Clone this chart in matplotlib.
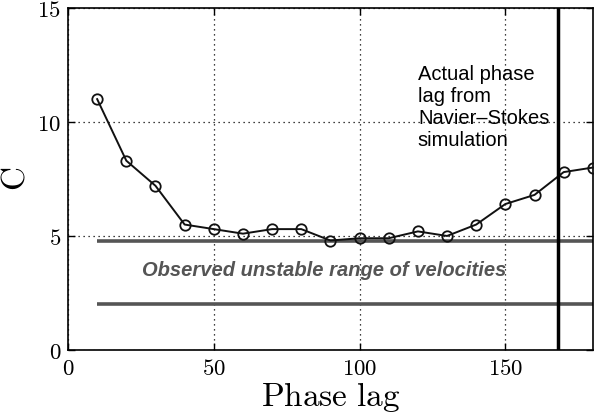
import matplotlib
matplotlib.use("Agg")
import matplotlib.pyplot as plt
from matplotlib.ticker import FuncFormatter

plt.rcParams['mathtext.fontset'] = 'cm'

phase_lag = [10, 20, 30, 40, 50, 60, 70, 80, 90, 100, 110, 120, 130, 140, 150, 160, 170, 180]
C_values = [11.0, 8.3, 7.2, 5.5, 5.3, 5.1, 5.3, 5.3, 4.8, 4.9, 4.9, 5.2, 5.0, 5.5, 6.4, 6.8, 7.8, 8.0]
range_low = 2.0
range_high = 4.8
range_x = [10, 180]
actual_lag = 168
xticks = [0, 50, 100, 150]
yticks = [0, 5, 10, 15]

fig = plt.figure(figsize=(5.94, 4.16), dpi=100)
ax = fig.add_axes([0.1145, 0.1587, 0.8835, 0.8223])

ax.plot(range_x, [range_high, range_high], color='#555555', lw=2.6, solid_capstyle='butt', zorder=2)
ax.plot(range_x, [range_low, range_low], color='#555555', lw=2.6, solid_capstyle='butt', zorder=2)
ax.plot(phase_lag, C_values, color='#111111', lw=1.4, marker='o', markersize=7.5,
        markerfacecolor='none', markeredgecolor='#111111', markeredgewidth=1.3, zorder=3, clip_on=False)
ax.axvline(actual_lag, color='black', lw=2.5, zorder=4)

ax.set_xlim(0, 180)
ax.set_ylim(0, 15)
ax.set_xticks(xticks)
ax.set_yticks(yticks)
fmt = FuncFormatter(lambda v, p: r'$%d$' % v)
ax.xaxis.set_major_formatter(fmt)
ax.yaxis.set_major_formatter(fmt)
ax.tick_params(direction='in', length=5, width=1, top=True, right=True, labelsize=16.5, pad=5, colors='black')
ax.grid(True, color='black', linestyle=(0, (1, 3)), linewidth=0.9)
for s in ax.spines.values():
    s.set_linewidth(1.2)

ax.set_xlabel(r'$\mathrm{Phase\ lag}$', fontsize=24, labelpad=0)
ax.set_ylabel(r'$\mathrm{C}$', fontsize=24, labelpad=4)

ax.text(120, 12.5, 'Actual phase\nlag from\nNavier\u2013Stokes\nsimulation', fontsize=14.5,
        family='Liberation Sans', va='top', ha='left', linespacing=1.2, zorder=5)
ax.text(88, 3.5, 'Observed unstable range of velocities', fontsize=14.5, family='Liberation Sans',
        fontweight='bold', fontstyle='italic', color='#555555', ha='center', va='center')

fig.savefig('out.png', dpi=100)
